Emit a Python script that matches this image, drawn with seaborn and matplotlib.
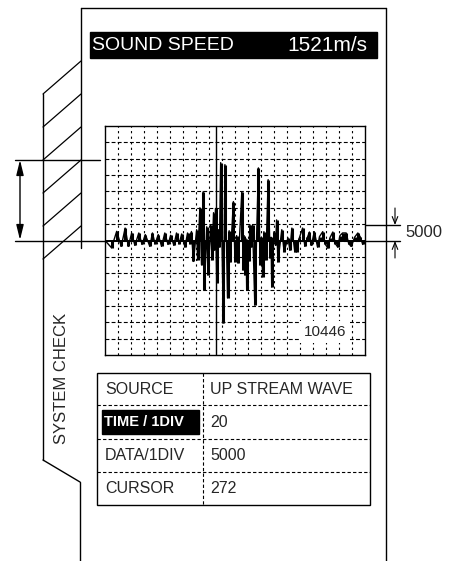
import numpy as np
import pandas as pd
import seaborn as sns
import matplotlib.pyplot as plt
from matplotlib.patches import Rectangle

# ---- values ----
# waveform: time in samples (20 per division), amplitude in counts (5000 per division)
wave_t = [0, 10, 18, 25, 31, 36, 41, 46, 52, 57, 62, 69, 73, 77, 82, 87, 92, 97, 101, 106,
          110, 114, 118, 123, 127, 131,
          133, 136, 141, 142.5, 146, 148.5, 151, 153, 156.5, 158.5, 162.5, 164.5, 167, 168,
          170, 172, 174.5, 176, 178, 182, 184.5, 188.5, 191, 192.5, 197.5, 200, 202.5, 205,
          210.5, 212.5, 214, 215.5, 217, 218, 219.5, 221, 223, 225, 227, 230.5, 236, 238.5,
          240.5, 242.5, 244.5, 247.5, 251, 254, 255.5, 256.5, 260, 262.5, 264, 266,
          272, 275.5, 281.5, 284.5, 287.5, 292, 295, 299, 304, 307.5, 311.5, 314.5, 317.5,
          322, 327, 330, 335, 339, 343, 346, 350.5, 354.5, 358, 361.5, 365.5, 371, 375, 379,
          384, 389, 393, 396.5, 400]
wave_amp = [0, -2200, 2800, -1800, 3800, -1800, 2300, -1500, 2300, -1200, 1800, -1800, 2300,
            -1000, 1800, -1800, 2300, -1200, 1600, -1500,
            2300, -1000, 2000, -2000, 2300, -1000,
            2750, -6400, 3300, -5900, 10000, -7400, 14900, -15100, 4200, -10500, 4800, -5900,
            8500, -3000,
            9800, -12900, 3300, -2000, 23800, -25200, 23200, -17500, 3000, -6500, 11900, -6500,
            1500, -6800,
            14900, -9000, 1500, -10500, 500, -15100, 0, -6400, 4800, -2000, 4800, -19700, 22200,
            -7400,
            1000, -11100, 2700, -5900, 18600, -5300, 1000, -14200, 2700, -1500, 6300, -6500,
            3300, -3400, 800, -3000, 3800, -3400, -3400, 800, 3800, -1800, 1000, 2600, -1500,
            2700, -2000, 1200, 2700, -1200, -2300, 800, 2600, -1000, -2000, 1500, 2300, 2300,
            -1000, -1800,
            1000, 2300, 1000, -1200, 0]
cursor_t = 170
t_per_div = 20
amp_per_div = 5000

title_label = 'SOUND SPEED'
title_value = '1521m/s'
side_label = 'SYSTEM CHECK'
peak_readout = '10446'
scale_label = '5000'
table_keys = ['SOURCE', 'TIME / 1DIV', 'DATA/1DIV', 'CURSOR']
table_vals = ['UP STREAM WAVE', '20', '5000', '272']

W, H = 472, 561

sns.set_style('white')
plt.rcParams['font.family'] = ['Liberation Sans', 'DejaVu Sans']

fig = plt.figure(figsize=(W / 100, H / 100), dpi=100)

# background sheet drawn in pixel units (y down)
bg = fig.add_axes([0, 0, 1, 1])
bg.set_xlim(0, W)
bg.set_ylim(H, 0)
bg.axis('off')

lw = 1.0
# outer panel
bg.plot([81, 386], [8, 8], color='k', lw=lw)
bg.plot([386, 386], [8, H], color='k', lw=lw)
bg.plot([81, 81], [8, 248], color='k', lw=lw)

# side tab with hatching
bg.plot([43, 43], [94, 460], color='k', lw=lw)
bg.plot([43, 80], [460, 482], color='k', lw=lw)
bg.plot([80, 80], [482, H], color='k', lw=lw)
for top in range(61, 250, 33):
    bg.plot([81, 43], [top, top + 33], color='k', lw=0.9)

# reference lines and span arrow on the left
bg.plot([15, 100], [159.5, 159.5], color='k', lw=lw)
bg.plot([15, 105], [240.5, 240.5], color='k', lw=lw)
bg.annotate('', xy=(20, 160), xytext=(20, 240),
            arrowprops=dict(arrowstyle='<|-|>,head_length=0.9,head_width=0.22',
                            color='k', lw=1, shrinkA=0, shrinkB=0))

# 5000 scale marker on the right
bg.plot([365, 400], [225, 225], color='k', lw=lw)
bg.plot([365, 400], [240.5, 240.5], color='k', lw=lw)
bg.annotate('', xy=(395, 225), xytext=(395, 208),
            arrowprops=dict(arrowstyle='->,head_length=0.5,head_width=0.2',
                            color='k', lw=0.8, shrinkA=0, shrinkB=0))
bg.annotate('', xy=(395, 241), xytext=(395, 258),
            arrowprops=dict(arrowstyle='->,head_length=0.5,head_width=0.2',
                            color='k', lw=0.8, shrinkA=0, shrinkB=0))
bg.text(405, 232, scale_label, fontsize=12, va='center', ha='left')

# title bar
bg.add_patch(Rectangle((90, 32), 287, 26, color='k'))
bg.text(92, 45.5, title_label, color='white', fontsize=14, va='center', ha='left')
bg.text(367, 45.5, title_value, color='white', fontsize=15, va='center', ha='right')

# rotated side label
bg.text(62, 378, side_label, rotation=90, fontsize=12, va='center', ha='center')

# table
tx0, tx1, tcol = 97, 370, 203
row_edges = [373, 405, 439, 472, 505]
dash = (0, (3, 2))
bg.add_patch(Rectangle((tx0, row_edges[0]), tx1 - tx0, row_edges[-1] - row_edges[0],
                       fill=False, ec='k', lw=lw))
for y in row_edges[1:-1]:
    bg.plot([tx0, tx1], [y, y], color='k', lw=0.8, ls=dash)
bg.plot([tcol, tcol], [row_edges[0], row_edges[-1]], color='k', lw=0.8, ls=dash)
bg.add_patch(Rectangle((102, 410), 97, 24, color='k'))
for i, (key, val) in enumerate(zip(table_keys, table_vals)):
    yc = (row_edges[i] + row_edges[i + 1]) / 2
    if i == 1:
        bg.text(104, yc, key, color='white', fontsize=10.5, fontweight='bold', va='center')
    else:
        bg.text(105, yc, key, fontsize=11.5, va='center')
    bg.text(210, yc, val, fontsize=11.5, va='center')

# oscilloscope screen
x0, y0, x1, y1 = 105, 126, 365, 355
ax = fig.add_axes([x0 / W, 1 - y1 / H, (x1 - x0) / W, (y1 - y0) / H])
wave = pd.DataFrame({'t': wave_t, 'amp': wave_amp})
ax.axhline(0, color='k', lw=1.4, zorder=3)
ax.vlines(wave['t'], 0, wave['amp'], color='k', lw=2.2, zorder=3)
sns.lineplot(data=wave, x='t', y='amp', ax=ax, color='k', lw=1.0, sort=False,
             estimator=None, zorder=3)
ax.axvline(cursor_t, color='k', lw=1.0, zorder=4)
ax.set_xlim(0, 20 * t_per_div)
ax.set_ylim(-7 * amp_per_div, 7 * amp_per_div)
ax.set_xticks(np.arange(t_per_div, 20 * t_per_div, t_per_div))
ax.set_yticks(np.arange(-6 * amp_per_div, 7 * amp_per_div, amp_per_div))
ax.xaxis.grid(True, color='k', lw=0.8, ls=(0, (2, 3)))
ax.yaxis.grid(True, color='k', lw=0.8, ls=(0, (3.5, 2)))
ax.tick_params(length=0, labelbottom=False, labelleft=False)
ax.set_xlabel('')
ax.set_ylabel('')
for s in ax.spines.values():
    s.set_visible(True)
    s.set_color('k')
    s.set_linewidth(1.0)
ax.text(338, -28000, peak_readout, fontsize=11, ha='center', va='center',
        zorder=5, bbox=dict(fc='white', ec='none', pad=3))

fig.savefig('out.png', dpi=100)
